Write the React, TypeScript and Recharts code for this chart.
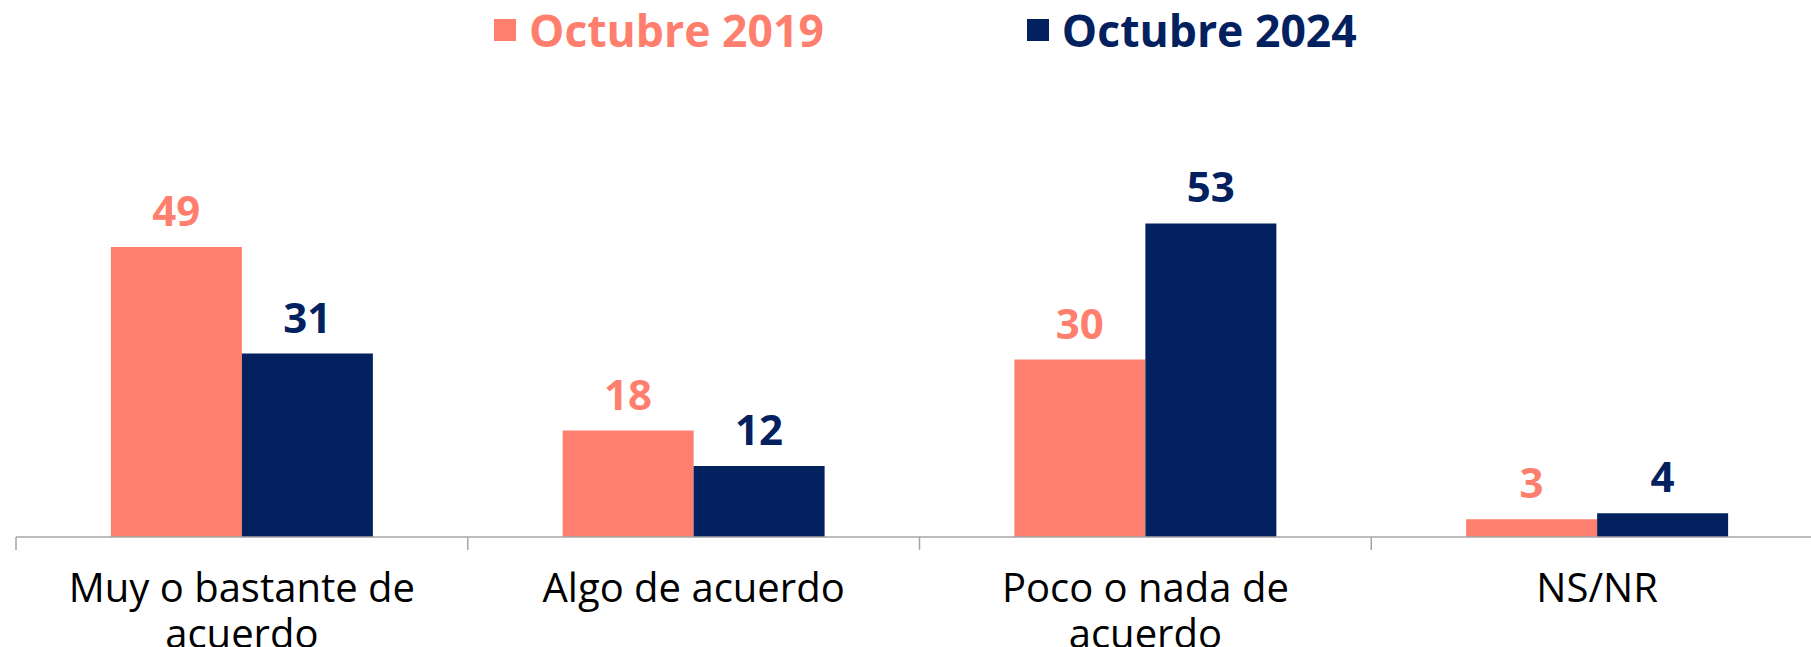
import React from "react";
import { BarChart, Bar, XAxis, YAxis, Legend, LabelList } from "recharts";

const categories = ["Muy o bastante de acuerdo", "Algo de acuerdo", "Poco o nada de acuerdo", "NS/NR"];
const oct2019 = [49, 18, 30, 3];
const oct2024 = [31, 12, 53, 4];
const seriesNames = ["Octubre 2019", "Octubre 2024"];
const seriesColors = ["#FF7F6E", "#03215F"];

const data = categories.map((c, i) => ({ cat: c, a: oct2019[i], b: oct2024[i] }));

const FONT = "'Open Sans', sans-serif";
const AXIS_GREY = "#A6A6A6";
const TICK_FONT_SIZE = 40;

let measureCtx: CanvasRenderingContext2D | null = null;
const measure = (s: string) => {
  if (!measureCtx) {
    const c = document.createElement("canvas");
    measureCtx = c.getContext("2d");
  }
  if (!measureCtx) return s.length * TICK_FONT_SIZE * 0.55;
  measureCtx.font = `${TICK_FONT_SIZE}px 'Open Sans'`;
  return measureCtx.measureText(s).width;
};

const wrapWords = (text: string, maxWidth: number) => {
  const words = text.split(" ");
  const lines: string[] = [];
  let cur = "";
  words.forEach((w) => {
    const next = cur ? cur + " " + w : w;
    if (cur && measure(next) > maxWidth) {
      lines.push(cur);
      cur = w;
    } else {
      cur = next;
    }
  });
  if (cur) lines.push(cur);
  return lines;
};

const CategoryTick = (props: any) => {
  const { x, y, payload } = props;
  const half = payload && payload.offset ? payload.offset : 226;
  const axisY = y - 8;
  const lines = wrapWords(String(payload.value), half * 2 - 80);
  return (
    <g>
      <line x1={x - half} x2={x - half} y1={axisY} y2={axisY + 13} stroke={AXIS_GREY} strokeWidth={1.5} />
      <text
        x={x}
        y={axisY + 65}
        textAnchor="middle"
        fontSize={TICK_FONT_SIZE}
        fontFamily={FONT}
        fill="#000000"
      >
        {lines.map((l, i) => (
          <tspan key={i} x={x} dy={i === 0 ? 0 : 46}>
            {l}
          </tspan>
        ))}
      </text>
    </g>
  );
};

const LegendContent = () => (
  <div style={{ display: "flex", alignItems: "center", paddingLeft: 494, paddingTop: 6 }}>
    {seriesNames.map((n, i) => (
      <div key={n} style={{ display: "flex", alignItems: "center", marginRight: i === 0 ? 203 : 0 }}>
        <div style={{ width: 22, height: 22, background: seriesColors[i], marginRight: 13 }} />
        <span style={{ fontFamily: FONT, fontWeight: 700, fontSize: 44.5, color: seriesColors[i], lineHeight: "48px", whiteSpace: "nowrap" }}>{n}</span>
      </div>
    ))}
  </div>
);

export default function App() {
  return (
    <div style={{ position: "absolute", left: 0, top: 0, width: 1811, height: 647, background: "#fff", overflow: "hidden" }}>
      <BarChart
        width={1823}
        height={647}
        data={data}
        margin={{ top: 0, right: 0, bottom: 0, left: 16 }}
        barCategoryGap="21%"
        barGap={0}
      >
        <Legend
          verticalAlign="top"
          align="left"
          height={182}
          wrapperStyle={{ height: 182, top: 0, left: 0, width: 1811 }}
          content={<LegendContent />}
        />
        <XAxis
          dataKey="cat"
          height={110}
          axisLine={{ stroke: AXIS_GREY, strokeWidth: 1.5 }}
          tickLine={false}
          interval={0}
          tick={<CategoryTick />}
        />
        <YAxis hide domain={[0, 60]} />
        <Bar dataKey="a" name={seriesNames[0]} fill={seriesColors[0]} isAnimationActive={false}>
          <LabelList dataKey="a" position="top" offset={21} fill={seriesColors[0]} fontSize={42} fontWeight={700} fontFamily={FONT} />
        </Bar>
        <Bar dataKey="b" name={seriesNames[1]} fill={seriesColors[1]} isAnimationActive={false}>
          <LabelList dataKey="b" position="top" offset={21} fill={seriesColors[1]} fontSize={42} fontWeight={700} fontFamily={FONT} />
        </Bar>
      </BarChart>
    </div>
  );
}
